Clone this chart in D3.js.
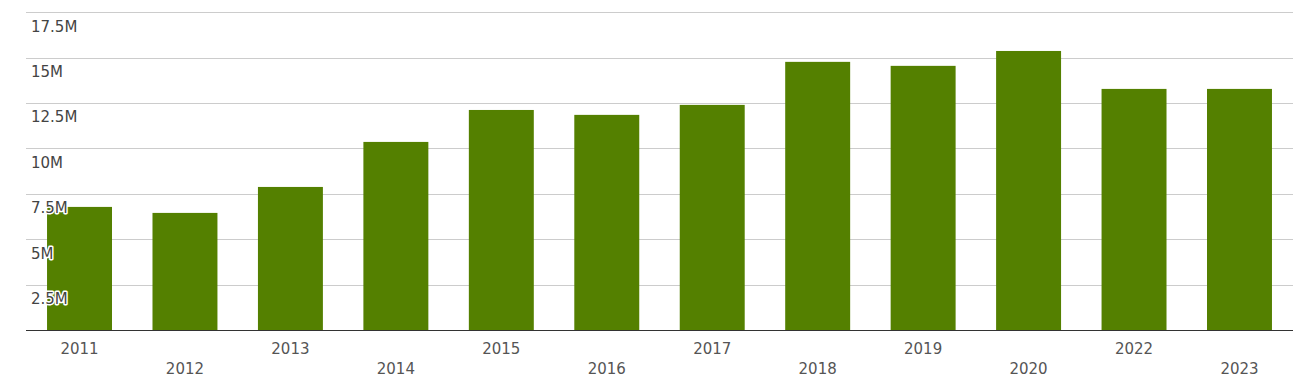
<!DOCTYPE html>
<html><head><meta charset="utf-8">
<script src="https://cdn.jsdelivr.net/npm/d3@7"></script>
<style>
html,body{margin:0;padding:0;background:#fff;}
svg{display:block;font-family:"DejaVu Sans",sans-serif;}
</style></head>
<body>
<svg id="chart" width="1293" height="384"></svg>
<script>
const years = ["2011","2012","2013","2014","2015","2016","2017","2018","2019","2020","2022","2023"];
const values = [6.78e6, 6.45e6, 7.88e6, 10.36e6, 12.12e6, 11.85e6, 12.40e6, 14.77e6, 14.55e6, 15.37e6, 13.28e6, 13.28e6];
const yTicks = [2.5e6, 5e6, 7.5e6, 10e6, 12.5e6, 15e6, 17.5e6];
const yTickLabels = ["2.5M","5M","7.5M","10M","12.5M","15M","17.5M"];

(function(){
const svg = d3.select("#chart");
const mLeft = 26, mRight = 1292, mTop = 12.3, mBottom = 330;

const x = d3.scaleBand().domain(years).range([mLeft + 1, mRight]).paddingInner(0.384).paddingOuter(0.19);
const y = d3.scaleLinear().domain([0, 17.5e6]).range([mBottom, mTop]);

svg.append("g").selectAll("line").data(yTicks).join("line")
  .attr("x1", mLeft).attr("x2", mRight + 1)
  .attr("y1", d => Math.round(y(d)) + 0.5).attr("y2", d => Math.round(y(d)) + 0.5)
  .attr("stroke", "#cccccc").attr("stroke-width", 1);

svg.append("g").selectAll("rect").data(values).join("rect")
  .attr("x", (d, i) => x(years[i]))
  .attr("width", x.bandwidth())
  .attr("y", d => y(d))
  .attr("height", d => mBottom - y(d))
  .attr("fill", "#548000");

svg.append("line").attr("x1", mLeft).attr("x2", mRight + 1)
  .attr("y1", mBottom + 0.5).attr("y2", mBottom + 0.5)
  .attr("stroke", "#333333").attr("stroke-width", 1);

svg.append("g").selectAll("text").data(yTicks).join("text")
  .attr("x", 31).attr("y", d => y(d) + 19.3)
  .attr("font-size", 15).attr("fill", "#444444")
  .attr("stroke", "#ffffff").attr("stroke-width", 3).attr("stroke-linejoin", "round")
  .attr("paint-order", "stroke")
  .text((d, i) => yTickLabels[i]);

svg.append("g").selectAll("text").data(years).join("text")
  .attr("x", d => x(d) + x.bandwidth() / 2)
  .attr("y", (d, i) => i % 2 === 0 ? 354 : 374)
  .attr("text-anchor", "middle")
  .attr("font-size", 15).attr("fill", "#555555")
  .text(d => d);
})();
</script>
</body></html>
